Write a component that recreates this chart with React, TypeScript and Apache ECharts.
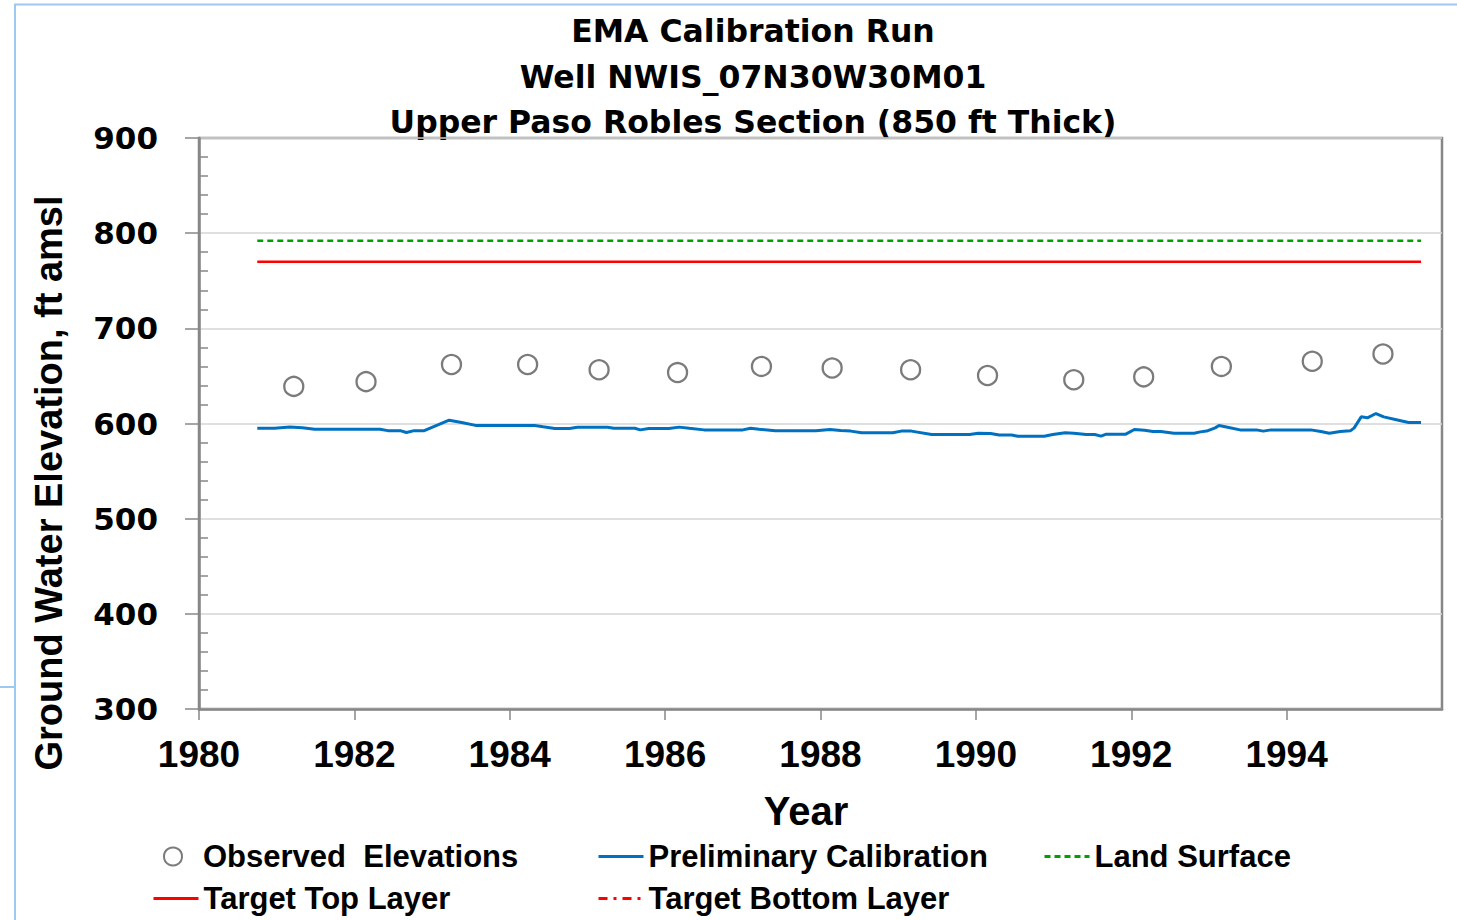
import React, { useEffect, useRef } from "react";
import * as echarts from "echarts";

const titleLines = [
  "EMA Calibration Run",
  "Well NWIS_07N30W30M01",
  "Upper Paso Robles Section (850 ft Thick)",
];
const yAxisTitle = "Ground Water Elevation, ft amsl";
const xAxisTitle = "Year";

const yMin = 300;
const yMax = 900;
const yStep = 100;
const xMin = 1980;
const xMax = 1996;
const xStep = 2;

const observedYears = [
  1981.22, 1982.15, 1983.25, 1984.23, 1985.15, 1986.16, 1987.24, 1988.15,
  1989.16, 1990.15, 1991.26, 1992.16, 1993.16, 1994.33, 1995.24,
];
const observedValues = [
  639, 644, 662, 662, 656.5, 653.5, 660, 658.3, 656.5, 650.5, 646, 649, 660,
  665.4, 673,
];

const calibYears = [
  1980.75, 1980.97, 1981.17, 1981.33, 1981.49, 1982.33, 1982.43, 1982.59,
  1982.67, 1982.77, 1982.9, 1983.09, 1983.22, 1983.38, 1983.56, 1984.32,
  1984.43, 1984.58, 1984.77, 1984.87, 1985.26, 1985.34, 1985.61, 1985.68,
  1985.79, 1986.05, 1986.18, 1986.31, 1986.5, 1987.0, 1987.1, 1987.21,
  1987.42, 1987.94, 1988.12, 1988.26, 1988.39, 1988.53, 1988.93, 1989.04,
  1989.17, 1989.43, 1989.92, 1990.03, 1990.19, 1990.3, 1990.46, 1990.54,
  1990.88, 1990.99, 1991.15, 1991.26, 1991.42, 1991.53, 1991.61, 1991.68,
  1991.93, 1992.04, 1992.17, 1992.28, 1992.38, 1992.55, 1992.81, 1992.89,
  1992.97, 1993.08, 1993.13, 1993.24, 1993.4, 1993.61, 1993.7, 1993.8,
  1994.31, 1994.44, 1994.55, 1994.69, 1994.82, 1994.87, 1994.96, 1995.04,
  1995.15, 1995.25, 1995.44, 1995.57, 1995.73,
];
const calibValues = [
  595, 595, 596.3, 595.5, 594, 594, 592.5, 592.5, 590.5, 592.5, 592.5, 599,
  603.5, 601, 598, 598, 596.5, 594.8, 594.8, 596, 596, 595, 595, 593.3, 594.8,
  594.8, 596.2, 595, 593.3, 593.3, 595, 594, 592.5, 592.5, 593.7, 592.6, 592,
  590.2, 590.2, 592, 592, 588.4, 588.4, 589.8, 589.5, 588, 588, 586.7, 586.7,
  588.4, 590.2, 589.8, 588.4, 588.4, 586.7, 588.8, 588.8, 593.7, 593, 591.6,
  591.6, 589.8, 589.8, 591.2, 592, 595.4, 597.9, 596.1, 593.3, 593.3, 592,
  593.3, 593.3, 591.6, 589.8, 591.6, 592.3, 595.4, 607, 606, 610.5, 607,
  603.5, 601, 601,
];

const layerYears = [1980.75, 1995.73];
const landSurface = 792;
const targetTop = 770;
const targetBottom = -80;

const names = {
  obs: "Observed  Elevations",
  calib: "Preliminary Calibration",
  land: "Land Surface",
  top: "Target Top Layer",
  bottom: "Target Bottom Layer",
};

export default function App() {
  const ref = useRef<HTMLDivElement>(null);

  useEffect(() => {
    if (!ref.current) return;
    const chart = echarts.init(ref.current, null, { renderer: "svg" });
    const axisGray = "#878787";
    const legendText = {
      fontFamily: "Liberation Sans",
      fontWeight: "bold" as const,
      fontSize: 31,
      color: "#000",
    };
    const lineLegend = (name: string, left: number, centerY: number) => ({
      data: [name],
      left,
      top: centerY - 18,
      itemWidth: 45,
      itemHeight: 36,
      padding: 0,
      selectedMode: false,
      textStyle: legendText,
      itemStyle: {
        color: "rgba(0,0,0,0)",
        borderColor: "rgba(0,0,0,0)",
        borderWidth: 0,
      },
      lineStyle: { width: 3 },
    });

    const option: any = {
      animation: false,
      backgroundColor: "#fff",
      grid: {
        left: 199,
        right: 15,
        top: 138,
        bottom: 211,
        show: true,
        borderColor: axisGray,
        borderWidth: 2.5,
        backgroundColor: "transparent",
      },
      xAxis: {
        type: "value",
        min: xMin,
        max: xMax,
        interval: xStep,
        axisLine: { show: true, lineStyle: { color: axisGray, width: 2.5 } },
        axisTick: { show: true, length: 11, lineStyle: { color: axisGray, width: 1.5 } },
        splitLine: { show: false },
        axisLabel: {
          margin: 27,
          showMaxLabel: false,
          formatter: (v: number) => (v >= xMax ? "" : String(v)),
          fontFamily: "Liberation Sans",
          fontWeight: "bold",
          fontSize: 37,
          color: "#000",
        },
      },
      yAxis: [
        {
          type: "value",
          min: yMin,
          max: yMax,
          interval: yStep,
          axisLine: { show: true, lineStyle: { color: axisGray, width: 2.5 } },
          axisTick: { show: true, length: 14, lineStyle: { color: axisGray, width: 1.5 } },
          splitLine: { show: true, lineStyle: { color: "#d4d4d4", width: 1.5 } },
          axisLabel: {
            margin: 41,
            fontFamily: "DejaVu Sans",
            fontWeight: "bold",
            fontSize: 31,
            color: "#000",
          },
        },
        {
          type: "value",
          min: yMin,
          max: yMax,
          interval: yStep,
          position: "left",
          axisLine: { show: false },
          axisTick: { show: false, inside: true },
          minorTick: {
            show: true,
            splitNumber: 5,
            length: 9,
            lineStyle: { color: axisGray, width: 1.5 },
          },
          splitLine: { show: false },
          axisLabel: { show: false },
        },
      ],
      legend: [
        {
          data: [names.obs],
          left: 163,
          top: 859 - 18,
          itemWidth: 50,
          itemHeight: 18,
          padding: 0,
          selectedMode: false,
          textStyle: legendText,
        },
        lineLegend(names.calib, 597, 859),
        lineLegend(names.land, 1043, 859),
        lineLegend(names.top, 152, 901),
        lineLegend(names.bottom, 597, 901),
      ],
      series: [
        {
          name: names.obs,
          type: "scatter",
          symbol: "circle",
          symbolSize: 19,
          itemStyle: { color: "#ffffff", borderColor: "#5a5a5a", borderWidth: 2.3 },
          data: observedYears.map((y, i) => [y, observedValues[i]]),
          z: 5,
        },
        {
          name: names.calib,
          type: "line",
          symbol: "none",
          lineStyle: { color: "#0070C0", width: 3 },
          itemStyle: { color: "#0070C0" },
          data: calibYears.map((y, i) => [y, calibValues[i]]),
          z: 4,
        },
        {
          name: names.land,
          type: "line",
          symbol: "none",
          lineStyle: { color: "#00A000", width: 2.5, type: [6, 4] },
          itemStyle: { color: "#00A000" },
          data: layerYears.map((y) => [y, landSurface]),
        },
        {
          name: names.top,
          type: "line",
          symbol: "none",
          lineStyle: { color: "#FF0000", width: 2.5 },
          itemStyle: { color: "#FF0000" },
          data: layerYears.map((y) => [y, targetTop]),
        },
        {
          name: names.bottom,
          type: "line",
          symbol: "none",
          clip: true,
          lineStyle: { color: "#FF0000", width: 2.5, type: [9, 6, 3, 6] },
          itemStyle: { color: "#FF0000" },
          data: layerYears.map((y) => [y, targetBottom]),
        },
      ],
      graphic: [
        {
          type: "line",
          shape: { x1: 14, y1: 4.5, x2: 1457, y2: 4.5 },
          style: { stroke: "#9cc8f2", lineWidth: 2 },
          silent: true,
        },
        {
          type: "line",
          shape: { x1: 15, y1: 4.5, x2: 15, y2: 920 },
          style: { stroke: "#9cc8f2", lineWidth: 2 },
          silent: true,
        },
        {
          type: "line",
          shape: { x1: 0, y1: 687, x2: 15, y2: 687 },
          style: { stroke: "#9cc8f2", lineWidth: 2 },
          silent: true,
        },
        ...titleLines.map((t, i) => ({
          type: "text",
          x: 753,
          y: 31 + i * 45.5,
          silent: true,
          style: {
            text: t,
            fill: "#000",
            font: "bold 31.5px 'DejaVu Sans'",
            textAlign: "center",
            textVerticalAlign: "middle",
          },
        })),
        {
          type: "text",
          x: 49,
          y: 483,
          rotation: Math.PI / 2,
          silent: true,
          style: {
            text: yAxisTitle,
            fill: "#000",
            font: "bold 38px 'Liberation Sans'",
            textAlign: "center",
            textVerticalAlign: "middle",
          },
        },
        {
          type: "text",
          x: 806,
          y: 811,
          silent: true,
          style: {
            text: xAxisTitle,
            fill: "#000",
            font: "bold 40px 'Liberation Sans'",
            textAlign: "center",
            textVerticalAlign: "middle",
          },
        },
      ],
    };

    chart.setOption(option);
    return () => {
      chart.dispose();
    };
  }, []);

  return (
    <div
      ref={ref}
      style={{ position: "fixed", left: 0, top: 0, width: 1457, height: 920 }}
    />
  );
}
